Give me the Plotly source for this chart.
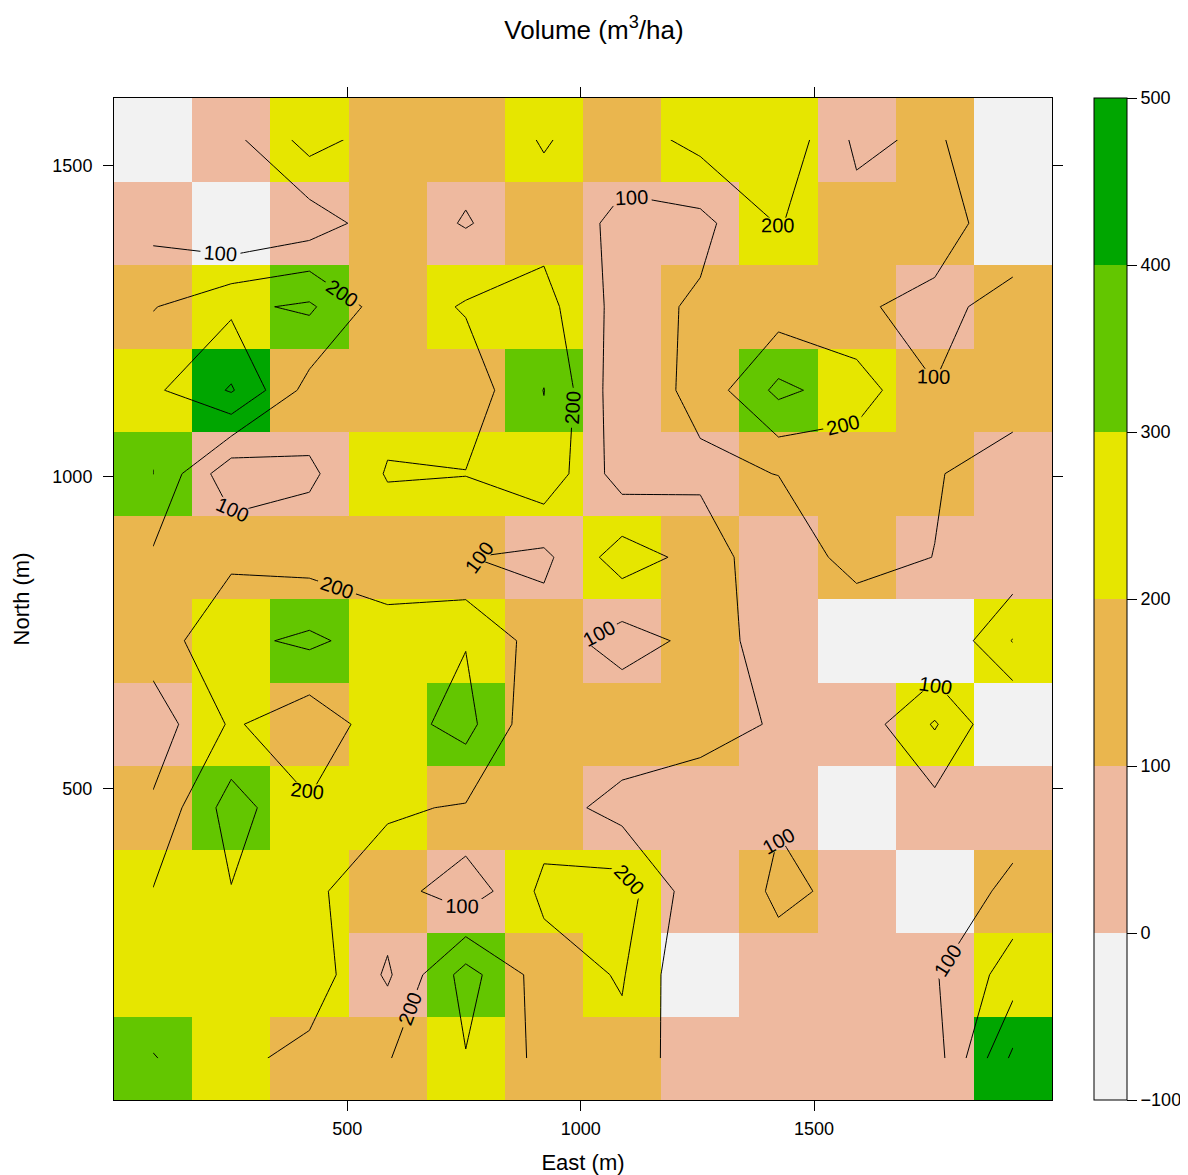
import plotly.graph_objects as go

# Grid (cell centres) -------------------------------------------------------
x_centers = [83.75 + 167.5 * i for i in range(12)]   # East (m)
y_centers = [67 + 134 * j for j in range(12)]        # North (m)

# Volume (m3/ha), rows from south (bottom) to north (top)
row01 = [305, 226, 170, 195, 295, 173, 173, 24, 50, 45, 52, 422]
row02 = [230, 250, 260, 85, 340, 151, 209, -10, 67, 55, 92, 246]
row03 = [204, 296, 216, 150, 33, 224, 250, 25, 115, 81, -5, 139]
row04 = [115, 345, 210, 212, 192, 151, 58, 25, 93, -5, 65, 24]
row05 = [45, 213, 135, 257, 334, 107, 185, 150, 87, 37, 210, -14]
row06 = [150, 275, 320, 248, 295, 149, 55, 128, 73, -5, -2, 205]
row07 = [185, 181, 160, 137, 102, 78, 250, 165, 15, 148, 98, 18]
row08 = [301, 28, 83, 207, 203, 270, 51, 78, 102, 127, 110, 33]
row09 = [281, 410, 161, 164, 140, 302, 34, 130, 325, 247, 105, 167]
row10 = [195, 280, 316, 143, 209, 235, 60, 115, 146, 120, 54, 161]
row11 = [65, -10, 44, 158, 93, 163, 75, 72, 205, 135, 185, -10]
row12 = [-10, 70, 239, 150, 137, 207, 148, 232, 280, 80, 118, -10]
z = [row01, row02, row03, row04, row05, row06,
     row07, row08, row09, row10, row11, row12]

levels = [-100, 0, 100, 200, 300, 400, 500]
level_colors = ["#F2F2F2", "#EEB99F", "#EAB64E", "#E6E600", "#63C600", "#00A600"]
axis_ticks = [500, 1000, 1500]

# discrete colour scale
n = len(level_colors)
colorscale = []
for i, c in enumerate(level_colors):
    colorscale.append([i / n, c])
    colorscale.append([(i + 1) / n, c])

FONT = "Liberation Sans, Arial, Helvetica, sans-serif"

fig = go.Figure()
fig.add_trace(go.Heatmap(
    x=x_centers, y=y_centers, z=z,
    zmin=levels[0], zmax=levels[-1],
    colorscale=colorscale,
    zsmooth=False,
    colorbar=dict(
        thickness=33, thicknessmode="pixels",
        len=1, lenmode="fraction", y=0.5, yanchor="middle",
        x=1.0448, xanchor="left", xpad=0, ypad=0,
        outlinewidth=1, outlinecolor="black",
        tickvals=levels, ticks="outside", ticklen=10, tickcolor="black",
        tickfont=dict(size=18, family=FONT, color="black"),
    ),
    hoverinfo="skip",
))
# labelled contour lines (100, 200)
fig.add_trace(go.Contour(
    x=x_centers, y=y_centers, z=z,
    contours=dict(start=100, end=200, size=100, coloring="none",
                  showlabels=True,
                  labelfont=dict(size=20, family=FONT, color="black")),
    line=dict(color="black", width=1, smoothing=0),
    showscale=False,
    hoverinfo="skip",
))
# unlabelled contour lines (300, 400)
fig.add_trace(go.Contour(
    x=x_centers, y=y_centers, z=z,
    contours=dict(start=300, end=400, size=100, coloring="none",
                  showlabels=False),
    line=dict(color="black", width=1, smoothing=0),
    showscale=False,
    hoverinfo="skip",
))

axis_common = dict(
    showgrid=False, zeroline=False,
    showline=True, linecolor="black", linewidth=1, mirror="ticks",
    ticks="outside", ticklen=10, tickcolor="black", tickwidth=1,
    tickvals=axis_ticks,
    tickfont=dict(size=18, family=FONT, color="black"),
)

fig.update_layout(
    width=1180, height=1167,
    margin=dict(l=106, r=136, t=90, b=75, autoexpand=False),
    paper_bgcolor="white", plot_bgcolor="white",
    font=dict(family=FONT, color="black"),
    title=dict(text="Volume (m<sup>3</sup>/ha)", x=0.5117, xref="paper",
               xanchor="center", y=1 - 22 / 1167, yref="container",
               yanchor="middle", font=dict(size=26, family=FONT)),
    xaxis=dict(range=[0, 2010], ticklabelstandoff=2,
               title=dict(text="East (m)", standoff=18,
                          font=dict(size=22, family=FONT)), **axis_common),
    yaxis=dict(range=[0, 1608], ticklabelstandoff=7,
               title=dict(text="North (m)", standoff=16,
                          font=dict(size=22, family=FONT)), **axis_common),
    showlegend=False,
)
fig.update_xaxes(automargin=False)
fig.update_yaxes(automargin=False)

fig.write_html("out.html")
